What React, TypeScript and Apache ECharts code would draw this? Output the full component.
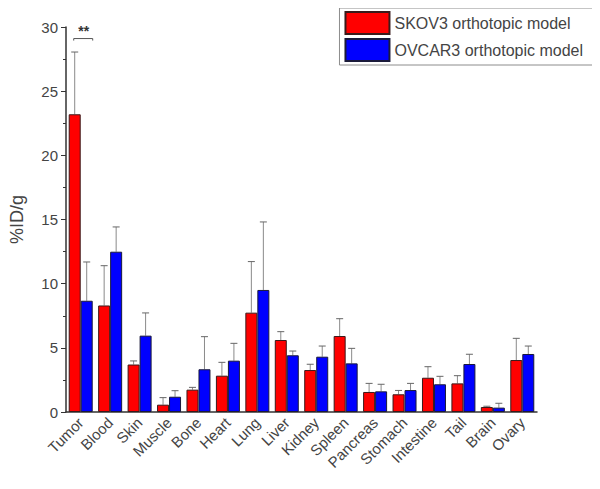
import React, { useEffect, useRef } from "react";
import * as echarts from "echarts";

const categories = ["Tumor", "Blood", "Skin", "Muscle", "Bone", "Heart", "Lung", "Liver", "Kidney", "Spleen", "Pancreas", "Stomach", "Intestine", "Tail", "Brain", "Ovary"];
const skov3Mean = [23.2, 8.3, 3.7, 0.57, 1.74, 2.83, 7.74, 5.61, 3.27, 5.92, 1.56, 1.38, 2.67, 2.23, 0.39, 4.05];
const skov3Err = [4.85, 3.1, 0.28, 0.55, 0.18, 1.04, 3.98, 0.65, 0.45, 1.35, 0.67, 0.3, 0.86, 0.6, 0.06, 1.69];
const ovcar3Mean = [8.67, 12.49, 5.95, 1.19, 3.33, 4.0, 9.51, 4.42, 4.31, 3.79, 1.61, 1.71, 2.16, 3.74, 0.34, 4.52];
const ovcar3Err = [3.02, 1.93, 1.77, 0.47, 2.54, 1.35, 5.3, 0.33, 0.83, 1.17, 0.55, 0.52, 0.62, 0.76, 0.34, 0.62];
const seriesNames = ["SKOV3 orthotopic model", "OVCAR3 orthotopic model"];
const significance = [{ category: 0, y: 29.1, label: "**" }];
const yTicks = { min: 0, max: 30, interval: 5 };

const BAR_W = 12;
const FONT = "Liberation Sans, Arial, sans-serif";

function errorSeries(mean: number[], err: number[], offset: number) {
  return {
    type: "custom",
    silent: true,
    z: 1,
    data: mean.map((m, i) => [i, m, m + err[i]]),
    encode: { x: 0, y: [1, 2] },
    renderItem: (params: any, api: any) => {
      const base = api.coord([api.value(0), api.value(1)]);
      const top = api.coord([api.value(0), api.value(2)]);
      const x = base[0] + offset;
      return {
        type: "group",
        children: [
          { type: "line", shape: { x1: x, y1: base[1], x2: x, y2: top[1] }, style: { stroke: "#8a8a8a", lineWidth: 1 } },
          { type: "line", shape: { x1: x - 3.5, y1: top[1], x2: x + 3.5, y2: top[1] }, style: { stroke: "#666", lineWidth: 1 } },
        ],
      };
    },
  };
}

export default function App() {
  const ref = useRef<HTMLDivElement>(null);
  useEffect(() => {
    const chart = echarts.init(ref.current!, null, { renderer: "svg" });
    chart.setOption({
      animation: false,
      backgroundColor: "#fff",
      textStyle: { fontFamily: FONT },
      grid: { left: 59, right: 63, top: 27, bottom: 77, containLabel: false },
      legend: {
        orient: "vertical",
        right: 3,
        top: 8,
        itemWidth: 44,
        itemHeight: 22,
        itemGap: 3,
        padding: [3, 14, 3, 5],
        borderColor: "#8c8c8c",
        borderWidth: 1,
        icon: "rect",
        textStyle: { fontSize: 16, color: "#444", fontFamily: FONT },
        data: seriesNames,
      },
      xAxis: [
        {
          type: "category",
          data: categories,
          position: "bottom",
          axisLine: { lineStyle: { color: "#333", width: 1.5 } },
          axisTick: { alignWithLabel: true, length: 6, lineStyle: { color: "#333" } },
          axisLabel: { rotate: 45, fontSize: 15, color: "#444", margin: 8, interval: 0, fontFamily: FONT },
        },
        {
          type: "category",
          data: categories,
          position: "bottom",
          gridIndex: 0,
          axisLine: { show: false },
          axisTick: { length: 3, lineStyle: { color: "#333" } },
          axisLabel: { show: false },
        },
      ],
      yAxis: {
        type: "value",
        min: yTicks.min,
        max: yTicks.max,
        interval: yTicks.interval,
        name: "%ID/g",
        nameLocation: "middle",
        nameGap: 40,
        nameTextStyle: { fontSize: 18, color: "#444", fontFamily: FONT },
        splitLine: { show: false },
        axisLine: { show: true, lineStyle: { color: "#333", width: 1.5 } },
        axisTick: { show: true, length: 5, lineStyle: { color: "#333" } },
        minorTick: { show: true, splitNumber: 2, length: 3, lineStyle: { color: "#333" } },
        axisLabel: { fontSize: 15, color: "#444", margin: 8, fontFamily: FONT },
      },
      series: [
        {
          name: seriesNames[0],
          type: "bar",
          data: skov3Mean,
          barWidth: BAR_W,
          barGap: "0%",
          z: 2,
          itemStyle: { color: "#ff0000", borderColor: "#3a1a1a", borderWidth: 1 },
        },
        {
          name: seriesNames[1],
          type: "bar",
          data: ovcar3Mean,
          barWidth: BAR_W,
          barGap: "0%",
          z: 2,
          itemStyle: { color: "#0000ff", borderColor: "#1a1a3a", borderWidth: 1 },
        },
        errorSeries(skov3Mean, skov3Err, -BAR_W / 2),
        errorSeries(ovcar3Mean, ovcar3Err, BAR_W / 2),
        {
          type: "custom",
          silent: true,
          z: 3,
          data: significance.map((s) => [s.category, s.y]),
          encode: { x: 0, y: 1 },
          renderItem: (params: any, api: any) => {
            const p = api.coord([api.value(0), api.value(1)]);
            const s = significance[params.dataIndex];
            return {
              type: "group",
              children: [
                { type: "line", shape: { x1: p[0] - 7, y1: p[1], x2: p[0] + 12, y2: p[1] }, style: { stroke: "#555", lineWidth: 1 } },
                { type: "line", shape: { x1: p[0] - 7, y1: p[1], x2: p[0] - 7, y2: p[1] + 2 }, style: { stroke: "#555", lineWidth: 1 } },
                { type: "line", shape: { x1: p[0] + 12, y1: p[1], x2: p[0] + 12, y2: p[1] + 2 }, style: { stroke: "#555", lineWidth: 1 } },
                { type: "text", x: p[0] + 3, y: p[1] - 1, style: { text: s.label, fontSize: 14, fontWeight: "bold", fill: "#333", align: "center", verticalAlign: "bottom", fontFamily: FONT } },
              ],
            };
          },
        },
      ],
    });
    return () => chart.dispose();
  }, []);
  return <div ref={ref} style={{ width: 600, height: 489, margin: -8 }} />;
}
